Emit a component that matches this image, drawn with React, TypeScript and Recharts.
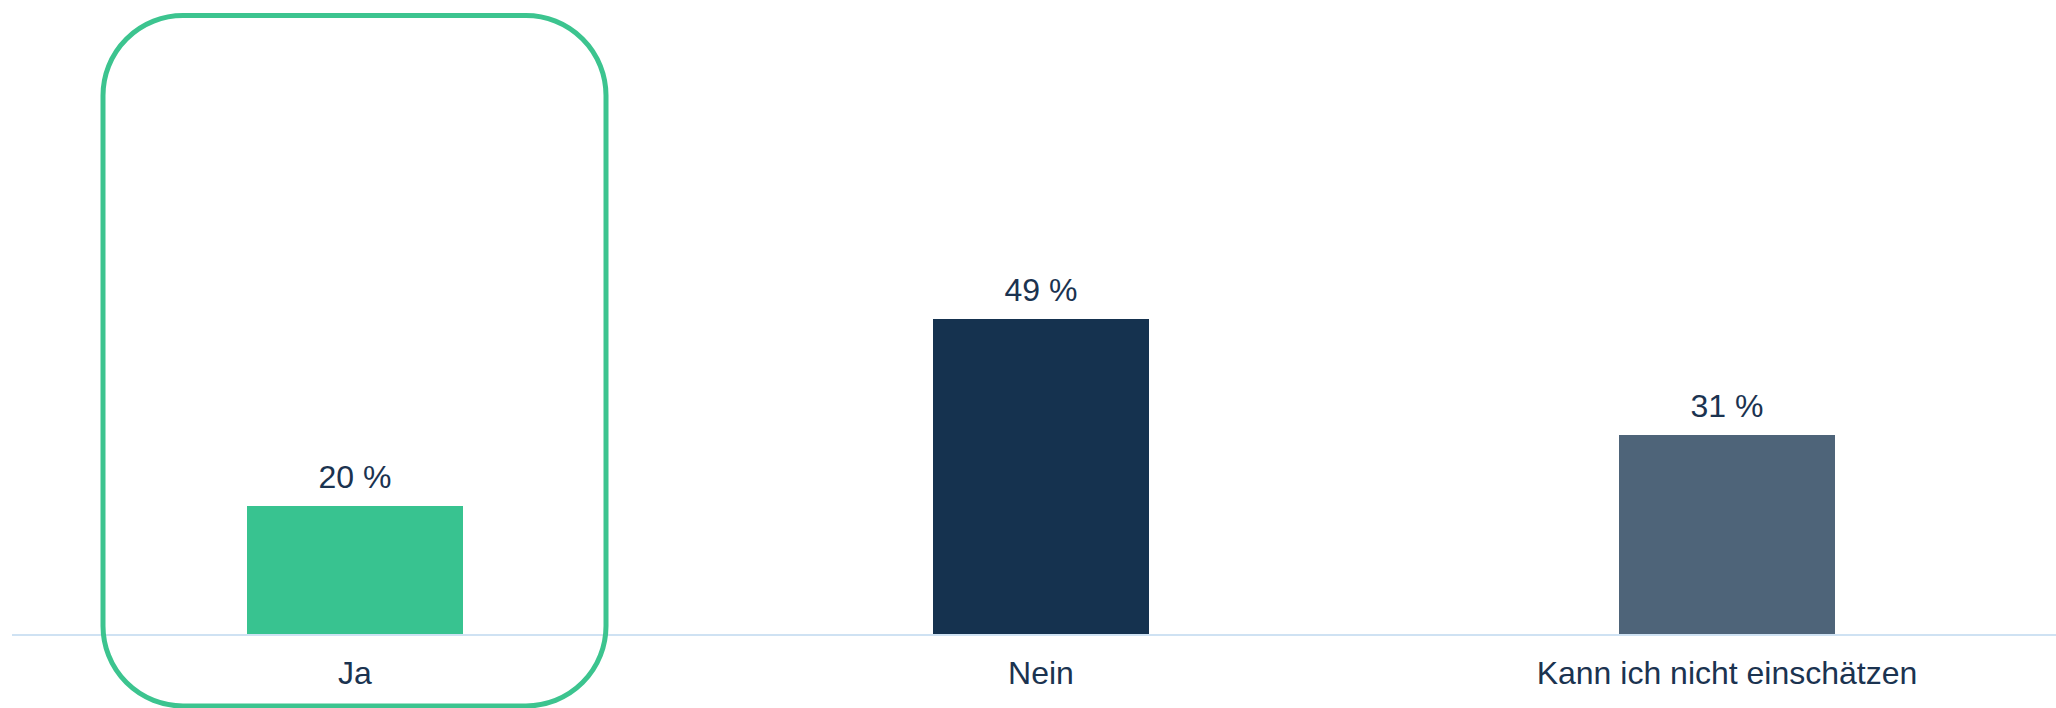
import { BarChart, Bar, XAxis, YAxis, Cell, LabelList } from "recharts";

const categories = ["Ja", "Nein", "Kann ich nicht einschätzen"];
const shares = [20, 49, 31];
const barColors = ["#38c390", "#15324f", "#4e6479"];

const data = categories.map((name, i) => ({ name, value: shares[i] }));

const FONT = '"Liberation Sans", Arial, sans-serif';
const TEXT = "#1b3350";

export default function App() {
  return (
    <div
      style={{
        position: "fixed",
        left: 0,
        top: 0,
        width: 2056,
        height: 708,
        overflow: "hidden",
        background: "#fff",
      }}
    >
      <BarChart
        width={2070}
        height={708}
        data={data}
        margin={{ top: 248, right: 0, bottom: 0, left: 12 }}
      >
        <XAxis
          dataKey="name"
          height={73}
          interval={0}
          tickLine={false}
          tickSize={0}
          tickMargin={26}
          axisLine={{ stroke: "#cfe2f3", strokeWidth: 2 }}
          tick={{ fontSize: 32, fill: TEXT, fontFamily: FONT }}
        />
        <YAxis hide domain={[0, 60]} />
        <Bar dataKey="value" barSize={216} isAnimationActive={false}>
          {data.map((d, i) => (
            <Cell key={d.name} fill={barColors[i]} />
          ))}
          <LabelList
            dataKey="value"
            position="top"
            offset={18}
            formatter={(v: number) => `${v} %`}
            style={{ fontSize: 32, fill: TEXT, fontFamily: FONT }}
          />
        </Bar>
      </BarChart>
      {/* Hervorhebung der Kategorie "Ja" */}
      <svg
        width={2056}
        height={708}
        style={{ position: "absolute", left: 0, top: 0, pointerEvents: "none" }}
      >
        <rect
          x={103}
          y={15.5}
          width={503}
          height={690.5}
          rx={80}
          ry={80}
          fill="none"
          stroke="#3cc48f"
          strokeWidth={5}
        />
      </svg>
    </div>
  );
}
